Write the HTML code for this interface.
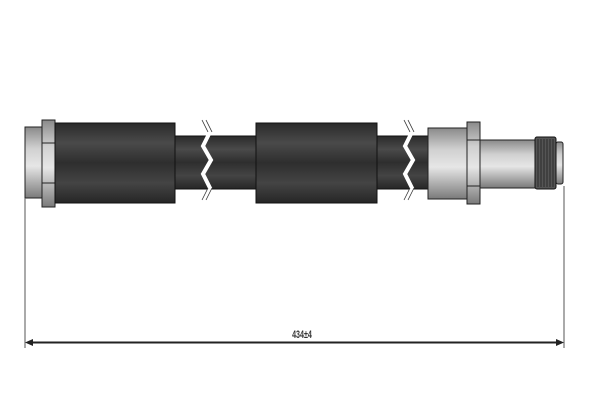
<!DOCTYPE html>
<html><head><meta charset="utf-8"><style>html,body{margin:0;padding:0;background:#fff}</style></head>
<body>
<svg width="600" height="400" viewBox="0 0 600 400" xmlns="http://www.w3.org/2000/svg">
<defs>
<linearGradient id="blk" x1="0" y1="0" x2="0" y2="1">
<stop offset="0" stop-color="#2a2a2a"/><stop offset="0.25" stop-color="#4a4a4a"/><stop offset="0.5" stop-color="#2e2e2e"/><stop offset="0.75" stop-color="#444"/><stop offset="1" stop-color="#262626"/>
</linearGradient>
<linearGradient id="gry" x1="0" y1="0" x2="0" y2="1">
<stop offset="0" stop-color="#8a8a8a"/><stop offset="0.3" stop-color="#d0d0d0"/><stop offset="0.55" stop-color="#e6e6e6"/><stop offset="1" stop-color="#7a7a7a"/>
</linearGradient>
</defs>
<rect x="170" y="136" width="265" height="53" fill="url(#blk)" stroke="#111" stroke-width="1"/>
<rect x="25" y="127" width="20" height="71" fill="url(#gry)" stroke="#222" stroke-width="1"/>
<rect x="42" y="120" width="13" height="87" fill="url(#gry)" stroke="#222" stroke-width="1"/>
<line x1="42" y1="143" x2="55" y2="143" stroke="#222"/><line x1="42" y1="183" x2="55" y2="183" stroke="#222"/>
<rect x="55" y="123" width="120" height="80" fill="url(#blk)" stroke="#111" stroke-width="1"/>
<rect x="256" y="123" width="121" height="80" fill="url(#blk)" stroke="#111" stroke-width="1"/>
<g fill="none" stroke-linejoin="miter">
<path d="M204 120 L210 132 L203 146 L211 160 L203 174 L210 188 L204 200" stroke="#fff" stroke-width="4"/>
<path d="M406 120 L412 132 L405 146 L413 160 L405 174 L412 188 L406 200" stroke="#fff" stroke-width="4"/>
<path d="M202 120 L208 132" stroke="#333" stroke-width="0.8"/><path d="M206 120 L212 132" stroke="#333" stroke-width="0.8"/>
<path d="M202 200 L208 188" stroke="#333" stroke-width="0.8"/><path d="M206 200 L212 188" stroke="#333" stroke-width="0.8"/>
<path d="M404 120 L410 132" stroke="#333" stroke-width="0.8"/><path d="M408 120 L414 132" stroke="#333" stroke-width="0.8"/>
<path d="M404 200 L410 188" stroke="#333" stroke-width="0.8"/><path d="M408 200 L414 188" stroke="#333" stroke-width="0.8"/>
</g>
<rect x="428" y="128" width="40" height="71" fill="url(#gry)" stroke="#222" stroke-width="1"/>
<rect x="480" y="140" width="56" height="48" fill="url(#gry)" stroke="#222" stroke-width="1"/>
<rect x="467" y="122" width="13" height="82" fill="url(#gry)" stroke="#222" stroke-width="1"/>
<line x1="467" y1="140" x2="480" y2="140" stroke="#222"/><line x1="467" y1="186" x2="480" y2="186" stroke="#222"/>
<rect x="556" y="142" width="7" height="42" rx="2" fill="url(#gry)" stroke="#222" stroke-width="1"/>
<rect x="535" y="137" width="21" height="52" rx="2" fill="#555" stroke="#111" stroke-width="1"/>
<g stroke="#222" stroke-width="0.8">
<line x1="538" y1="139" x2="538" y2="187"/><line x1="541" y1="139" x2="541" y2="187"/><line x1="544" y1="139" x2="544" y2="187"/><line x1="547" y1="139" x2="547" y2="187"/><line x1="550" y1="139" x2="550" y2="187"/><line x1="553" y1="139" x2="553" y2="187"/>
</g>
<line x1="25" y1="198" x2="25" y2="348" stroke="#555" stroke-width="1"/>
<line x1="564" y1="186" x2="564" y2="348" stroke="#555" stroke-width="1"/>
<line x1="27" y1="342.5" x2="562" y2="342.5" stroke="#222" stroke-width="2"/>
<path d="M25 342.5 L33 339 L33 346 Z" fill="#222"/>
<path d="M564 342.5 L556 339 L556 346 Z" fill="#222"/>
<text x="302" y="338" font-family="Liberation Sans, sans-serif" font-size="11" font-weight="bold" text-anchor="middle" fill="#333" transform="translate(302 0) scale(0.65 1) translate(-302 0)">434±4</text>
</svg>
</body></html>
